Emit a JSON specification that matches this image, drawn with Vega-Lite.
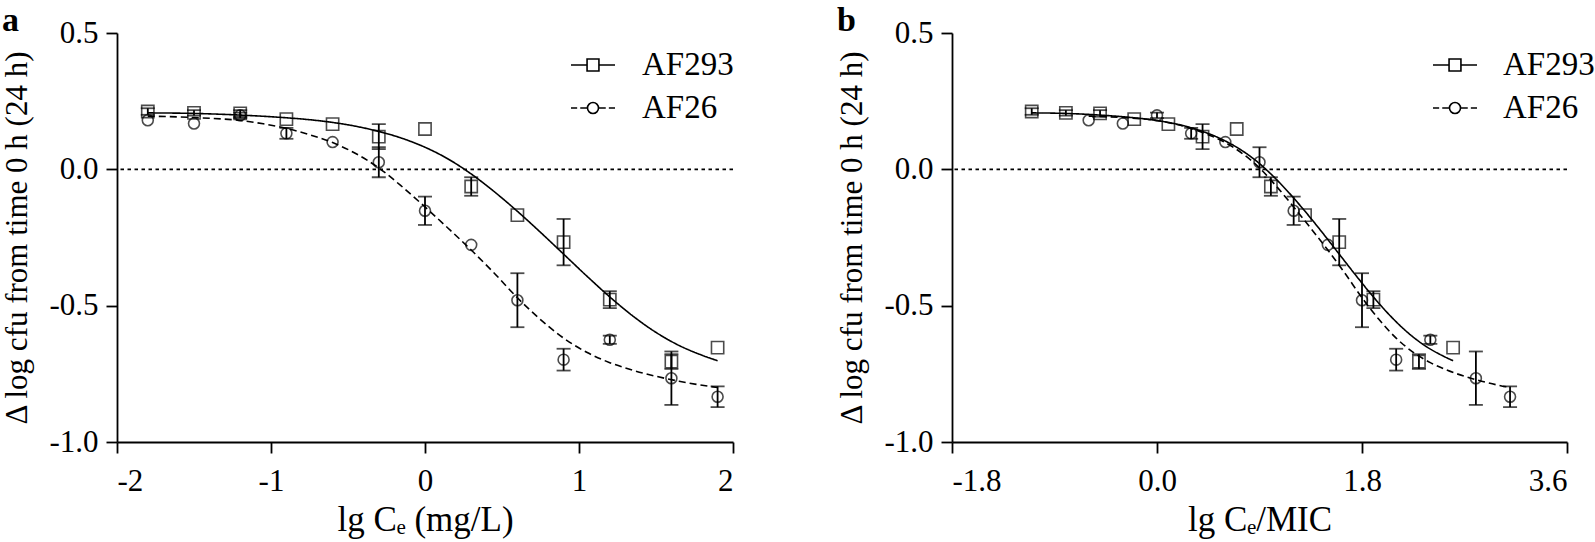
{
  "$schema": "https://vega.github.io/schema/vega-lite/v6.json",
  "padding": {"left": 1, "top": 4, "right": 5, "bottom": 5},
  "background": "white",
  "config": {
    "view": {"stroke": null},
    "font": "Liberation Serif",
    "axis": {
      "grid": false,
      "labelFont": "Liberation Serif",
      "titleFont": "Liberation Serif",
      "labelFontSize": 31,
      "titleFontWeight": "normal",
      "labelColor": "black",
      "titleColor": "black",
      "domainColor": "black",
      "tickColor": "black",
      "domainWidth": 1.8,
      "tickWidth": 1.8,
      "tickSize": 11
    },
    "axisX": {"titleFontSize": 35, "titlePadding": 6, "labelPadding": 13},
    "axisY": {"titleFontSize": 31, "titlePadding": 15, "labelPadding": 8},
    "title": {"font": "Liberation Serif", "fontSize": 34, "fontWeight": "bold", "color": "black"}
  },
  "datasets": {
    "pts": [
      {"panel": "a", "strain": "AF293", "x": -1.8, "y": 0.212, "err": 0.012},
      {"panel": "a", "strain": "AF293", "x": -1.5, "y": 0.207, "err": 0.01},
      {"panel": "a", "strain": "AF293", "x": -1.2, "y": 0.205, "err": 0.012},
      {"panel": "a", "strain": "AF293", "x": -0.9, "y": 0.184, "err": 0},
      {"panel": "a", "strain": "AF293", "x": -0.6, "y": 0.166, "err": 0},
      {"panel": "a", "strain": "AF293", "x": -0.3, "y": 0.12, "err": 0.046},
      {"panel": "a", "strain": "AF293", "x": 0.0, "y": 0.148, "err": 0},
      {"panel": "a", "strain": "AF293", "x": 0.3, "y": -0.063, "err": 0.034},
      {"panel": "a", "strain": "AF293", "x": 0.6, "y": -0.168, "err": 0},
      {"panel": "a", "strain": "AF293", "x": 0.9, "y": -0.267, "err": 0.085},
      {"panel": "a", "strain": "AF293", "x": 1.2, "y": -0.478, "err": 0.031},
      {"panel": "a", "strain": "AF293", "x": 1.6, "y": -0.705, "err": 0.027},
      {"panel": "a", "strain": "AF293", "x": 1.9, "y": -0.654, "err": 0},
      {"panel": "a", "strain": "AF26", "x": -1.8, "y": 0.18, "err": 0},
      {"panel": "a", "strain": "AF26", "x": -1.5, "y": 0.168, "err": 0},
      {"panel": "a", "strain": "AF26", "x": -1.2, "y": 0.198, "err": 0.01},
      {"panel": "a", "strain": "AF26", "x": -0.9, "y": 0.132, "err": 0.02},
      {"panel": "a", "strain": "AF26", "x": -0.6, "y": 0.1, "err": 0},
      {"panel": "a", "strain": "AF26", "x": -0.3, "y": 0.026, "err": 0.055},
      {"panel": "a", "strain": "AF26", "x": 0.0, "y": -0.152, "err": 0.052},
      {"panel": "a", "strain": "AF26", "x": 0.3, "y": -0.277, "err": 0},
      {"panel": "a", "strain": "AF26", "x": 0.6, "y": -0.48, "err": 0.099},
      {"panel": "a", "strain": "AF26", "x": 0.9, "y": -0.698, "err": 0.04},
      {"panel": "a", "strain": "AF26", "x": 1.2, "y": -0.625, "err": 0.015},
      {"panel": "a", "strain": "AF26", "x": 1.6, "y": -0.766, "err": 0.098},
      {"panel": "a", "strain": "AF26", "x": 1.9, "y": -0.834, "err": 0.038},
      {"panel": "b", "strain": "AF293", "x": -1.1, "y": 0.212, "err": 0.012},
      {"panel": "b", "strain": "AF293", "x": -0.8, "y": 0.207, "err": 0.01},
      {"panel": "b", "strain": "AF293", "x": -0.5, "y": 0.205, "err": 0.012},
      {"panel": "b", "strain": "AF293", "x": -0.2, "y": 0.184, "err": 0},
      {"panel": "b", "strain": "AF293", "x": 0.1, "y": 0.166, "err": 0},
      {"panel": "b", "strain": "AF293", "x": 0.4, "y": 0.12, "err": 0.046},
      {"panel": "b", "strain": "AF293", "x": 0.7, "y": 0.148, "err": 0},
      {"panel": "b", "strain": "AF293", "x": 1.0, "y": -0.063, "err": 0.034},
      {"panel": "b", "strain": "AF293", "x": 1.3, "y": -0.168, "err": 0},
      {"panel": "b", "strain": "AF293", "x": 1.6, "y": -0.267, "err": 0.085},
      {"panel": "b", "strain": "AF293", "x": 1.9, "y": -0.478, "err": 0.031},
      {"panel": "b", "strain": "AF293", "x": 2.3, "y": -0.705, "err": 0.027},
      {"panel": "b", "strain": "AF293", "x": 2.6, "y": -0.654, "err": 0},
      {"panel": "b", "strain": "AF26", "x": -0.6, "y": 0.18, "err": 0},
      {"panel": "b", "strain": "AF26", "x": -0.3, "y": 0.168, "err": 0},
      {"panel": "b", "strain": "AF26", "x": 0.0, "y": 0.198, "err": 0.01},
      {"panel": "b", "strain": "AF26", "x": 0.3, "y": 0.132, "err": 0.02},
      {"panel": "b", "strain": "AF26", "x": 0.6, "y": 0.1, "err": 0},
      {"panel": "b", "strain": "AF26", "x": 0.9, "y": 0.026, "err": 0.055},
      {"panel": "b", "strain": "AF26", "x": 1.2, "y": -0.152, "err": 0.052},
      {"panel": "b", "strain": "AF26", "x": 1.5, "y": -0.277, "err": 0},
      {"panel": "b", "strain": "AF26", "x": 1.8, "y": -0.48, "err": 0.099},
      {"panel": "b", "strain": "AF26", "x": 2.1, "y": -0.698, "err": 0.04},
      {"panel": "b", "strain": "AF26", "x": 2.4, "y": -0.625, "err": 0.015},
      {"panel": "b", "strain": "AF26", "x": 2.8, "y": -0.766, "err": 0.098},
      {"panel": "b", "strain": "AF26", "x": 3.1, "y": -0.834, "err": 0.038}
    ],
    "curves": [
      {"panel": "a", "strain": "AF293", "x": -1.8, "y": 0.207},
      {"panel": "a", "strain": "AF293", "x": -1.5, "y": 0.205},
      {"panel": "a", "strain": "AF293", "x": -1.2, "y": 0.199},
      {"panel": "a", "strain": "AF293", "x": -0.9, "y": 0.189},
      {"panel": "a", "strain": "AF293", "x": -0.75, "y": 0.182},
      {"panel": "a", "strain": "AF293", "x": -0.6, "y": 0.172},
      {"panel": "a", "strain": "AF293", "x": -0.45, "y": 0.158},
      {"panel": "a", "strain": "AF293", "x": -0.3, "y": 0.139},
      {"panel": "a", "strain": "AF293", "x": -0.15, "y": 0.114},
      {"panel": "a", "strain": "AF293", "x": 0.0, "y": 0.081},
      {"panel": "a", "strain": "AF293", "x": 0.15, "y": 0.038},
      {"panel": "a", "strain": "AF293", "x": 0.3, "y": -0.017},
      {"panel": "a", "strain": "AF293", "x": 0.45, "y": -0.082},
      {"panel": "a", "strain": "AF293", "x": 0.6, "y": -0.154},
      {"panel": "a", "strain": "AF293", "x": 0.75, "y": -0.231},
      {"panel": "a", "strain": "AF293", "x": 0.9, "y": -0.311},
      {"panel": "a", "strain": "AF293", "x": 1.05, "y": -0.391},
      {"panel": "a", "strain": "AF293", "x": 1.2, "y": -0.468},
      {"panel": "a", "strain": "AF293", "x": 1.35, "y": -0.538},
      {"panel": "a", "strain": "AF293", "x": 1.5, "y": -0.598},
      {"panel": "a", "strain": "AF293", "x": 1.65, "y": -0.646},
      {"panel": "a", "strain": "AF293", "x": 1.8, "y": -0.682},
      {"panel": "a", "strain": "AF293", "x": 1.9, "y": -0.702},
      {"panel": "a", "strain": "AF26", "x": -1.8, "y": 0.195},
      {"panel": "a", "strain": "AF26", "x": -1.5, "y": 0.19},
      {"panel": "a", "strain": "AF26", "x": -1.2, "y": 0.179},
      {"panel": "a", "strain": "AF26", "x": -1.05, "y": 0.167},
      {"panel": "a", "strain": "AF26", "x": -0.9, "y": 0.15},
      {"panel": "a", "strain": "AF26", "x": -0.75, "y": 0.127},
      {"panel": "a", "strain": "AF26", "x": -0.6, "y": 0.098},
      {"panel": "a", "strain": "AF26", "x": -0.45, "y": 0.058},
      {"panel": "a", "strain": "AF26", "x": -0.3, "y": 0.005},
      {"panel": "a", "strain": "AF26", "x": -0.15, "y": -0.063},
      {"panel": "a", "strain": "AF26", "x": 0.0, "y": -0.138},
      {"panel": "a", "strain": "AF26", "x": 0.15, "y": -0.216},
      {"panel": "a", "strain": "AF26", "x": 0.3, "y": -0.296},
      {"panel": "a", "strain": "AF26", "x": 0.45, "y": -0.381},
      {"panel": "a", "strain": "AF26", "x": 0.6, "y": -0.471},
      {"panel": "a", "strain": "AF26", "x": 0.75, "y": -0.551},
      {"panel": "a", "strain": "AF26", "x": 0.9, "y": -0.619},
      {"panel": "a", "strain": "AF26", "x": 1.05, "y": -0.671},
      {"panel": "a", "strain": "AF26", "x": 1.2, "y": -0.709},
      {"panel": "a", "strain": "AF26", "x": 1.35, "y": -0.737},
      {"panel": "a", "strain": "AF26", "x": 1.5, "y": -0.759},
      {"panel": "a", "strain": "AF26", "x": 1.65, "y": -0.777},
      {"panel": "a", "strain": "AF26", "x": 1.8, "y": -0.792},
      {"panel": "a", "strain": "AF26", "x": 1.9, "y": -0.8},
      {"panel": "b", "strain": "AF293", "x": -1.1, "y": 0.207},
      {"panel": "b", "strain": "AF293", "x": -0.8, "y": 0.205},
      {"panel": "b", "strain": "AF293", "x": -0.5, "y": 0.199},
      {"panel": "b", "strain": "AF293", "x": -0.2, "y": 0.189},
      {"panel": "b", "strain": "AF293", "x": -0.05, "y": 0.182},
      {"panel": "b", "strain": "AF293", "x": 0.1, "y": 0.172},
      {"panel": "b", "strain": "AF293", "x": 0.25, "y": 0.158},
      {"panel": "b", "strain": "AF293", "x": 0.4, "y": 0.139},
      {"panel": "b", "strain": "AF293", "x": 0.55, "y": 0.114},
      {"panel": "b", "strain": "AF293", "x": 0.7, "y": 0.081},
      {"panel": "b", "strain": "AF293", "x": 0.85, "y": 0.038},
      {"panel": "b", "strain": "AF293", "x": 1.0, "y": -0.017},
      {"panel": "b", "strain": "AF293", "x": 1.15, "y": -0.082},
      {"panel": "b", "strain": "AF293", "x": 1.3, "y": -0.154},
      {"panel": "b", "strain": "AF293", "x": 1.45, "y": -0.231},
      {"panel": "b", "strain": "AF293", "x": 1.6, "y": -0.311},
      {"panel": "b", "strain": "AF293", "x": 1.75, "y": -0.391},
      {"panel": "b", "strain": "AF293", "x": 1.9, "y": -0.468},
      {"panel": "b", "strain": "AF293", "x": 2.05, "y": -0.538},
      {"panel": "b", "strain": "AF293", "x": 2.2, "y": -0.598},
      {"panel": "b", "strain": "AF293", "x": 2.35, "y": -0.646},
      {"panel": "b", "strain": "AF293", "x": 2.5, "y": -0.682},
      {"panel": "b", "strain": "AF293", "x": 2.6, "y": -0.702},
      {"panel": "b", "strain": "AF26", "x": -0.6, "y": 0.195},
      {"panel": "b", "strain": "AF26", "x": -0.3, "y": 0.19},
      {"panel": "b", "strain": "AF26", "x": 0.0, "y": 0.179},
      {"panel": "b", "strain": "AF26", "x": 0.15, "y": 0.167},
      {"panel": "b", "strain": "AF26", "x": 0.3, "y": 0.15},
      {"panel": "b", "strain": "AF26", "x": 0.45, "y": 0.127},
      {"panel": "b", "strain": "AF26", "x": 0.6, "y": 0.098},
      {"panel": "b", "strain": "AF26", "x": 0.75, "y": 0.058},
      {"panel": "b", "strain": "AF26", "x": 0.9, "y": 0.005},
      {"panel": "b", "strain": "AF26", "x": 1.05, "y": -0.063},
      {"panel": "b", "strain": "AF26", "x": 1.2, "y": -0.138},
      {"panel": "b", "strain": "AF26", "x": 1.35, "y": -0.216},
      {"panel": "b", "strain": "AF26", "x": 1.5, "y": -0.296},
      {"panel": "b", "strain": "AF26", "x": 1.65, "y": -0.381},
      {"panel": "b", "strain": "AF26", "x": 1.8, "y": -0.471},
      {"panel": "b", "strain": "AF26", "x": 1.95, "y": -0.551},
      {"panel": "b", "strain": "AF26", "x": 2.1, "y": -0.619},
      {"panel": "b", "strain": "AF26", "x": 2.25, "y": -0.671},
      {"panel": "b", "strain": "AF26", "x": 2.4, "y": -0.709},
      {"panel": "b", "strain": "AF26", "x": 2.55, "y": -0.737},
      {"panel": "b", "strain": "AF26", "x": 2.7, "y": -0.759},
      {"panel": "b", "strain": "AF26", "x": 2.85, "y": -0.777},
      {"panel": "b", "strain": "AF26", "x": 3.0, "y": -0.792},
      {"panel": "b", "strain": "AF26", "x": 3.1, "y": -0.8}
    ]
  },
  "spacing": 102,
  "resolve": {"scale": {"shape": "independent"}, "legend": {"shape": "independent"}},
  "hconcat": [
    {
      "width": 616,
      "height": 409,
      "title": {"text": "a", "anchor": "start", "frame": "bounds", "offset": -21},
      "layer": [
        {
          "data": {"values": [{}]},
          "mark": {"type": "rule", "color": "black", "strokeWidth": 1.6, "strokeDash": [3.5, 3.5]},
          "encoding": {"y": {"datum": 0, "type": "quantitative"}}
        },
        {
          "data": {"name": "curves"},
          "transform": [{"filter": "datum.panel === 'a'"}],
          "mark": {"type": "line", "interpolate": "monotone", "color": "black", "strokeWidth": 1.6},
          "encoding": {
            "x": {"field": "x", "type": "quantitative", "title": "lg Cₑ (mg/L)"},
            "y": {"field": "y", "type": "quantitative", "title": "Δ log cfu from time 0 h (24 h)"},
            "strokeDash": {"field": "strain", "type": "nominal", "scale": {"domain": ["AF293", "AF26"], "range": [[1, 0], [7, 4]]}, "legend": null}
          }
        },
        {
          "data": {"name": "pts"},
          "transform": [{"filter": "datum.panel === 'a' && datum.err > 0"}],
          "mark": {"type": "errorbar", "color": "black", "ticks": {"size": 14, "thickness": 1.8, "color": "black"}, "rule": {"strokeWidth": 1.8, "color": "black"}},
          "encoding": {
            "x": {"field": "x", "type": "quantitative", "title": "lg Cₑ (mg/L)"},
            "y": {"field": "y", "type": "quantitative", "title": "Δ log cfu from time 0 h (24 h)"},
            "yError": {"field": "err"}
          }
        },
        {
          "data": {"name": "pts"},
          "transform": [{"filter": "datum.panel === 'a' && datum.strain === 'AF293'"}],
          "mark": {"type": "point", "shape": "square", "filled": false, "color": "black", "strokeWidth": 1.6, "size": 150},
          "encoding": {
            "x": {
              "field": "x", "type": "quantitative", "title": "lg Cₑ (mg/L)",
              "scale": {"domain": [-2, 2], "nice": false, "zero": false},
              "axis": {"values": [-2, -1, 0, 1, 2], "format": "d", "labelExpr": "replace(datum.label, '\u2212', '-')"}
            },
            "y": {
              "field": "y", "type": "quantitative", "title": "Δ log cfu from time 0 h (24 h)",
              "scale": {"domain": [-1, 0.5], "nice": false, "zero": false},
              "axis": {"values": [-1, -0.5, 0, 0.5], "format": ".1f", "labelExpr": "replace(datum.label, '\u2212', '-')"}
            }
          }
        },
        {
          "data": {"name": "pts"},
          "transform": [{"filter": "datum.panel === 'a' && datum.strain === 'AF26'"}],
          "mark": {"type": "point", "shape": "circle", "filled": false, "color": "black", "strokeWidth": 1.6, "size": 120},
          "encoding": {
            "x": {"field": "x", "type": "quantitative", "title": "lg Cₑ (mg/L)"},
            "y": {"field": "y", "type": "quantitative", "title": "Δ log cfu from time 0 h (24 h)"}
          }
        },
        {
          "data": {"name": "pts"},
          "transform": [{"filter": "datum.panel === 'a'"}],
          "mark": {"type": "point", "filled": false, "color": "black", "opacity": 0},
          "encoding": {
            "x": {"field": "x", "type": "quantitative", "title": "lg Cₑ (mg/L)"},
            "y": {"field": "y", "type": "quantitative", "title": "Δ log cfu from time 0 h (24 h)"},
            "shape": {
              "field": "strain", "type": "nominal",
              "scale": {"domain": ["AF293", "AF26"], "range": ["M-1,0H-0.27M0.27,0H1M-0.27,-0.27H0.27V0.27H-0.27Z", "M-1,0H-0.72M-0.58,0H-0.27M0.27,0H0.58M0.72,0H1M-0.25,0A0.25,0.25,0,1,1,0.25,0A0.25,0.25,0,1,1,-0.25,0Z"]},
              "legend": {
                "title": null, "orient": "none", "legendX": 453, "legendY": 9,
                "padding": 0, "rowPadding": 3, "labelOffset": 26,
                "labelFont": "Liberation Serif", "labelFontSize": 33, "labelColor": "black",
                "symbolSize": 1936, "symbolStrokeWidth": 1.6, "symbolStrokeColor": "black", "symbolFillColor": "transparent", "symbolOpacity": 1
              }
            }
          }
        }
      ]
    },
    {
      "width": 615,
      "height": 409,
      "title": {"text": "b", "anchor": "start", "frame": "bounds", "offset": -21},
      "layer": [
        {
          "data": {"values": [{}]},
          "mark": {"type": "rule", "color": "black", "strokeWidth": 1.6, "strokeDash": [3.5, 3.5]},
          "encoding": {"y": {"datum": 0, "type": "quantitative"}}
        },
        {
          "data": {"name": "curves"},
          "transform": [{"filter": "datum.panel === 'b'"}],
          "mark": {"type": "line", "interpolate": "monotone", "color": "black", "strokeWidth": 1.6},
          "encoding": {
            "x": {"field": "x", "type": "quantitative", "title": "lg Cₑ/MIC"},
            "y": {"field": "y", "type": "quantitative", "title": "Δ log cfu from time 0 h (24 h)"},
            "strokeDash": {"field": "strain", "type": "nominal", "scale": {"domain": ["AF293", "AF26"], "range": [[1, 0], [7, 4]]}, "legend": null}
          }
        },
        {
          "data": {"name": "pts"},
          "transform": [{"filter": "datum.panel === 'b' && datum.err > 0"}],
          "mark": {"type": "errorbar", "color": "black", "ticks": {"size": 14, "thickness": 1.8, "color": "black"}, "rule": {"strokeWidth": 1.8, "color": "black"}},
          "encoding": {
            "x": {"field": "x", "type": "quantitative", "title": "lg Cₑ/MIC"},
            "y": {"field": "y", "type": "quantitative", "title": "Δ log cfu from time 0 h (24 h)"},
            "yError": {"field": "err"}
          }
        },
        {
          "data": {"name": "pts"},
          "transform": [{"filter": "datum.panel === 'b' && datum.strain === 'AF293'"}],
          "mark": {"type": "point", "shape": "square", "filled": false, "color": "black", "strokeWidth": 1.6, "size": 150},
          "encoding": {
            "x": {
              "field": "x", "type": "quantitative", "title": "lg Cₑ/MIC",
              "scale": {"domain": [-1.8, 3.6], "nice": false, "zero": false},
              "axis": {"values": [-1.8, 0, 1.8, 3.6], "format": ".1f", "labelExpr": "replace(datum.label, '\u2212', '-')"}
            },
            "y": {
              "field": "y", "type": "quantitative", "title": "Δ log cfu from time 0 h (24 h)",
              "scale": {"domain": [-1, 0.5], "nice": false, "zero": false},
              "axis": {"values": [-1, -0.5, 0, 0.5], "format": ".1f", "labelExpr": "replace(datum.label, '\u2212', '-')"}
            }
          }
        },
        {
          "data": {"name": "pts"},
          "transform": [{"filter": "datum.panel === 'b' && datum.strain === 'AF26'"}],
          "mark": {"type": "point", "shape": "circle", "filled": false, "color": "black", "strokeWidth": 1.6, "size": 120},
          "encoding": {
            "x": {"field": "x", "type": "quantitative", "title": "lg Cₑ/MIC"},
            "y": {"field": "y", "type": "quantitative", "title": "Δ log cfu from time 0 h (24 h)"}
          }
        },
        {
          "data": {"name": "pts"},
          "transform": [{"filter": "datum.panel === 'b'"}],
          "mark": {"type": "point", "filled": false, "color": "black", "opacity": 0},
          "encoding": {
            "x": {"field": "x", "type": "quantitative", "title": "lg Cₑ/MIC"},
            "y": {"field": "y", "type": "quantitative", "title": "Δ log cfu from time 0 h (24 h)"},
            "shape": {
              "field": "strain", "type": "nominal",
              "scale": {"domain": ["AF293", "AF26"], "range": ["M-1,0H-0.27M0.27,0H1M-0.27,-0.27H0.27V0.27H-0.27Z", "M-1,0H-0.72M-0.58,0H-0.27M0.27,0H0.58M0.72,0H1M-0.25,0A0.25,0.25,0,1,1,0.25,0A0.25,0.25,0,1,1,-0.25,0Z"]},
              "legend": {
                "title": null, "orient": "none", "legendX": 480, "legendY": 9,
                "padding": 0, "rowPadding": 3, "labelOffset": 25,
                "labelFont": "Liberation Serif", "labelFontSize": 33, "labelColor": "black",
                "symbolSize": 1936, "symbolStrokeWidth": 1.6, "symbolStrokeColor": "black", "symbolFillColor": "transparent", "symbolOpacity": 1
              }
            }
          }
        }
      ]
    }
  ]
}
